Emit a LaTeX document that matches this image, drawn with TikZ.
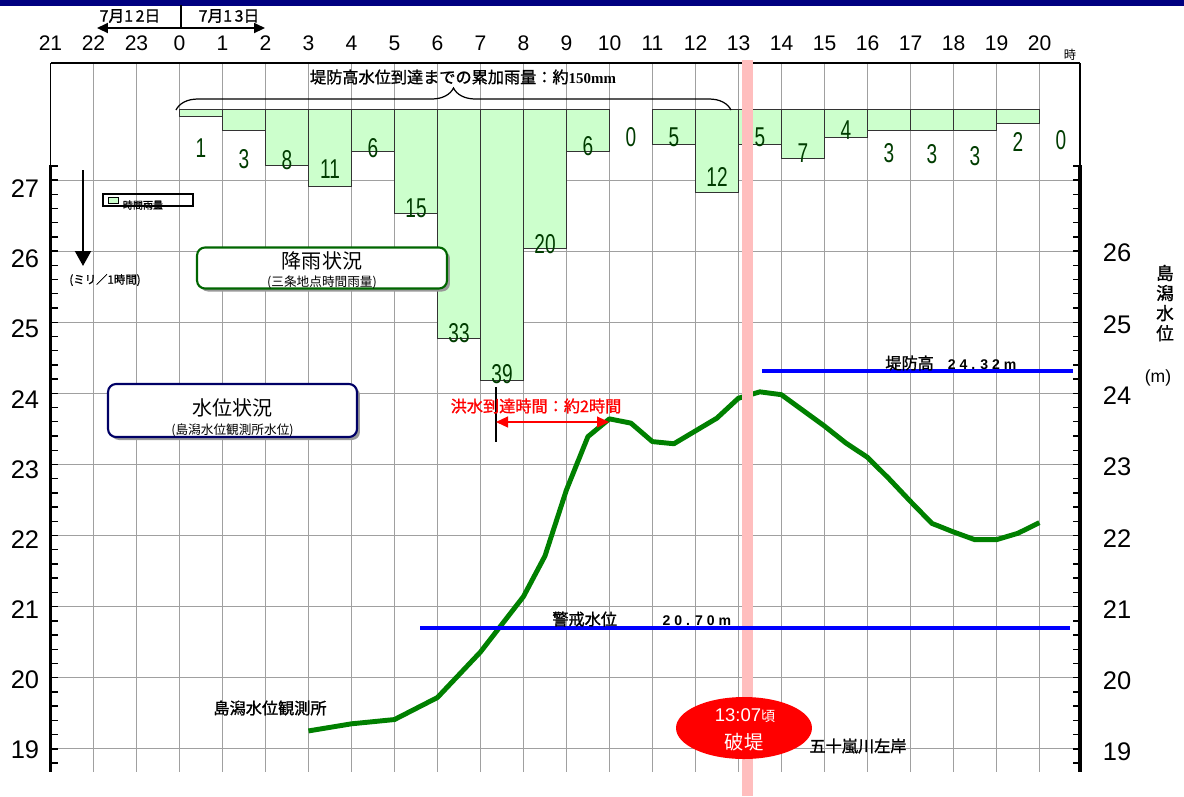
\documentclass[tikz,border=0pt]{standalone}
\usepackage{fontspec}
\setmainfont{Liberation Sans}
\newfontfamily\jp{Noto Sans CJK JP}
\newfontfamily\jpb[FakeBold=1.2]{Noto Sans CJK JP}
\newfontfamily\narrow[FakeStretch=0.7]{Liberation Sans}
\newfontfamily\tms{Liberation Serif}
\usetikzlibrary{arrows.meta,decorations.pathreplacing,shapes.geometric,shadows}
\definecolor{titlenavy}{RGB}{0,0,128}
\definecolor{raingreen}{RGB}{204,255,204}
\definecolor{labgreen}{RGB}{0,60,0}
\definecolor{linegreen}{RGB}{0,128,0}
\definecolor{boxgreen}{RGB}{0,102,0}
\definecolor{boxnavy}{RGB}{0,0,102}
\definecolor{bandpink}{RGB}{255,190,190}
\definecolor{gridgray}{RGB}{160,160,160}
\newcommand{\fsz}[1]{\fontsize{#1}{#1}\selectfont}

\begin{document}
\begin{tikzpicture}
  [x=0.02cm,y=-0.02cm,every node/.style={inner sep=0pt},
   gridline/.style={draw=gridgray,line width=0.5pt},
   rainbar/.style={draw=black!80,fill=raingreen,line width=0.5pt},
   rainlab/.style={text=labgreen,font=\narrow\fsz{15.5}},
   hourlab/.style={font=\fsz{12}},
   ylab/.style={font=\fsz{14.5}},
   jlab/.style={font=\jpb\fsz{9.2}},
   roundbox/.style={line width=1.2pt,fill=white,rounded corners=0.16cm,
     drop shadow={shadow xshift=0.06cm,shadow yshift=-0.06cm,fill=black!40,opacity=1}},
   levelline/.style={draw=blue,line width=2pt},
   wl/.style={draw=linegreen,line width=2.8pt,line join=round},
   datearr/.style={line width=1.2pt,-{Triangle[length=0.22cm,width=0.2cm]}},
   redarr/.style={red,line width=0.6pt,{Triangle[length=0.24cm,width=0.22cm]}-{Triangle[length=0.24cm,width=0.22cm]}}]

  \useasboundingbox (0,0) rectangle (1184,796);
  \fill[titlenavy] (0,0) rectangle (1184,6);

  \foreach \i in {1,...,23}
    \draw[gridline] ({50.5+43*\i},63) -- ({50.5+43*\i},772);
  \foreach \v in {19,...,27}
    \draw[gridline] (50.5,{180+(27-\v)*71.1}) -- (1080,{180+(27-\v)*71.1});

  \draw[line width=1.3pt] (50.5,63) -- (1080,63);
  \draw[line width=0.8pt] (50.5,63) -- (50.5,165);
  \draw[line width=0.8pt] (1080,63) -- (1080,165);
  \draw[line width=2pt] (50.5,165) -- (50.5,772);
  \draw[line width=2pt] (1080,165) -- (1080,772);
  \foreach \k in {0,...,42}{
    \draw[line width=0.8pt] (50.5,{165.8+14.22*\k}) -- +(7,0);
    \draw[line width=0.8pt] (1080,{165.8+14.22*\k}) -- +(-7,0);
  }

  \foreach \t [count=\i from 0] in {21,22,23,0,1,2,3,4,5,6,7,8,9,10,11,12,13,14,15,16,17,18,19,20}
    \node[hourlab] (h\i) at ({50.5+43*\i},43) {\t};
  \node[font=\jp\fsz{7}] (hunit) at (1070,55) {時};
  \foreach \v in {19,...,27}
    \node[ylab] (yl\v) at (25,{189+(27-\v)*70.1}) {\v};
  \foreach \v in {19,...,26}
    \node[ylab] (yr\v) at (1117,{253+(26-\v)*71.3}) {\v};
  \node[font=\jpb\fontsize{10}{11.4}\selectfont,align=center] (ytitle) at (1165,303) {島\\潟\\水\\位};
  \node[font=\fsz{10}] (yunit) at (1158,378) {(m)};

  \foreach \h/\r/\ly in {0/1/148,1/3/159,2/8/160,3/11/169,4/6/148,5/15/208,6/33/333,7/39/374,
      8/20/244,9/6/146,10/0/137,11/5/137,12/12/177,13/5/137,14/7/153,15/4/130,16/3/153,
      17/3/154,18/3/156,19/2/142,20/0/140}{
    \ifnum\r>0 \draw[rainbar] ({179.5+43*\h},109.5) rectangle ({222.5+43*\h},{109.5+6.95*\r}); \fi
    \node[rainlab] (r\h) at ({201+43*\h},\ly) {\r};
  }

  \coordinate (bl) at (176,110);
  \coordinate (br) at (731,110);
  \draw[line width=0.7pt,decorate,decoration={brace,amplitude=0.44cm,aspect=0.5}] (bl) -- (br);
  \node[jlab] (sumlab) at (463,77) {堤防高水位到達までの累加雨量：約{\tms\bfseries\fsz{8.5}150mm}};

  \coordinate (dtop) at (181,5);
  \coordinate (dmid) at (181,28);
  \coordinate (dl) at (97,28);
  \coordinate (dr) at (265,28);
  \draw[line width=1.2pt] (dtop) -- (dmid);
  \draw[datearr] (dmid) -- (dl);
  \draw[datearr] (dmid) -- (dr);
  \node[font=\jpb\fsz{9}] (d12) at (130,16) {7月1\,2日};
  \node[font=\jpb\fsz{9}] (d13) at (229,16) {7月1\,3日};

  \draw[line width=0.6pt] (103,194) rectangle (193,206);
  \draw[fill=raingreen,line width=0.4pt] (108,197) rectangle (118,203);
  \node[font=\jpb\fsz{5.7}] (lgd) at (143,205) {時間雨量};
  \coordinate (ua) at (83,170);
  \coordinate (ub) at (83,266);
  \draw[line width=1.2pt,-{Triangle[length=0.3cm,width=0.32cm]}] (ua) -- (ub);
  \node[font=\jpb\fsz{6.5}] (mm) at (105,280) {(ミリ／1時間)};

  \node[roundbox,draw=boxgreen,minimum width=5cm,minimum height=0.82cm] (rainbox) at (322,268) {};
  \node[font=\jp\fsz{11.4}] (rainttl) at (322,261) {降雨状況};
  \node[font=\jp\fsz{7.2}] (rainsub) at (322,282) {(三条地点時間雨量)};
  \node[roundbox,draw=boxnavy,minimum width=4.98cm,minimum height=1.06cm] (wlbox) at (232.5,410.5) {};
  \node[font=\jp\fsz{11.4}] (wlttl) at (232.5,408) {水位状況};
  \node[font=\jp\fsz{7.2}] (wlsub) at (232.5,430) {(島潟水位観測所水位)};

  \begin{scope}[shift={(179.5,180)},x=0.86cm,y=1.422cm]
    \draw[wl] plot coordinates {(3,-7.75) (4,-7.65) (5,-7.59) (6,-7.28) (7,-6.64) (8,-5.86)
      (8.5,-5.29) (9,-4.36) (9.5,-3.61) (10,-3.36) (10.5,-3.42) (11,-3.68) (11.5,-3.71)
      (12,-3.53) (12.5,-3.35) (13,-3.07) (13.5,-2.98) (14,-3.02) (14.5,-3.24) (15,-3.46)
      (15.5,-3.70) (16,-3.90) (16.5,-4.20) (17,-4.52) (17.5,-4.83) (18,-4.95) (18.5,-5.06)
      (19,-5.06) (19.5,-4.97) (20,-4.82)};
  \end{scope}

  \fill[bandpink] (742,60) rectangle (753,796);

  \coordinate (k1) at (762,371);
  \coordinate (k2) at (1073,371);
  \draw[levelline] (k1) -- (k2);
  \node[jlab,anchor=west] (klab) at (885,363) {堤防高\hspace{8pt}{\rmfamily\bfseries\fsz{8}2 4 . 3 2 m}};
  \coordinate (w1) at (420,628);
  \coordinate (w2) at (1070,628);
  \draw[levelline] (w1) -- (w2);
  \node[jlab,anchor=west] (wlab) at (552,619) {警戒水位\hspace{26pt}{\rmfamily\bfseries\fsz{8}2 0 . 7 0 m}};

  \coordinate (fv1) at (496,387);
  \coordinate (fv2) at (496,442);
  \draw[line width=0.8pt] (fv1) -- (fv2);
  \coordinate (fa) at (496,422);
  \coordinate (fb) at (609,422);
  \draw[redarr] (fa) -- (fb);
  \node[text=red,font=\jpb\fsz{9.2}] (flood) at (536,406) {洪水到達時間：約2時間};

  \node[ellipse,fill=red,minimum width=2.72cm,minimum height=1.24cm] (brk) at (744,728) {};
  \node[text=white,font=\fsz{10.5}] (brk1) at (745,716) {13:07{\jp\fsz{8}頃}};
  \node[text=white,font=\jp\fsz{11}] (brk2) at (744,742) {破堤};
  \node[jlab] (bank) at (858,746) {五十嵐川左岸};
  \node[jlab] (stn) at (270,708) {島潟水位観測所};

\end{tikzpicture}
\end{document}
